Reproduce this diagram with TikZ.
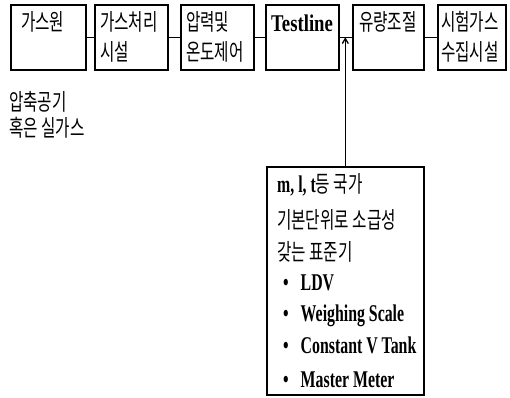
\documentclass[tikz,border=0pt]{standalone}
\usepackage{fontspec}
\newfontfamily\kr[FakeStretch=0.68]{Noto Sans CJK KR}
\newfontfamily\lat[FakeStretch=0.66]{Liberation Serif}
\newfontfamily\latw[FakeStretch=0.78]{Liberation Serif}
\usetikzlibrary{arrows.meta}
\begin{document}
\begin{tikzpicture}[x=1pt,y=-1pt,
  box/.style={draw,line width=1.6pt,minimum width=#1,minimum height=65pt,inner sep=0pt,anchor=north west},
  lbl/.style={anchor=base west,inner sep=0pt,font=\kr\fontsize{23}{26}\selectfont},
  lat/.style={anchor=base west,inner sep=0pt,font=\lat\bfseries\fontsize{24}{28}\selectfont},
  link/.style={line width=1.6pt}]
\useasboundingbox (0,0) rectangle (510,397);
\node[box=75pt] (b1) at (10,4) {};
\node[box=73pt] (b2) at (94,4) {};
\node[box=73pt] (b3) at (180,4) {};
\node[box=73pt] (b4) at (265,4) {};
\node[box=71pt] (b5) at (352,4) {};
\node[box=68pt] (b6) at (437,4) {};
\node[lbl] (t1) at (21,30) {가스원};
\node[lbl] (t2a) at (100,30) {가스처리};
\node[lbl] (t2b) at (100,60) {시설};
\node[lbl] (t3a) at (186,30) {압력및};
\node[lbl] (t3b) at (186,60) {온도제어};
\node[lat,font=\latw\bfseries\fontsize{24}{28}\selectfont] (t4) at (271,31) {Testline};
\node[lbl] (t5) at (359,30) {유량조절};
\node[lbl] (t6a) at (441,30) {시험가스};
\node[lbl] (t6b) at (441,60) {수집시설};
\node[lbl] (s1) at (9,110) {압축공기};
\node[lbl] (s2) at (9,136) {혹은 실가스};
\draw[link] (b1.east) -- (b2.west);
\draw[link] (b2.east) -- (b3.west);
\draw[link] (b3.east) -- (b4.west);
\draw[link] (b4.east) -- (b5.west);
\draw[link] (b5.east) -- (b6.west);
\node[draw,line width=1.6pt,minimum width=157pt,minimum height=228pt,inner sep=0pt,anchor=north west] (std) at (266,166) {};
\node[lbl] (l1) at (277,192) {{\lat\bfseries\fontsize{24}{28}\selectfont m, l, t}등 국가};
\node[lbl] (l2) at (277,228) {기본단위로 소급성};
\node[lbl] (l3) at (277,260) {갖는 표준기};
\node[lat] (i1) at (283,290) {•\enspace LDV};
\node[lat] (i2) at (283,321) {•\enspace Weighing Scale};
\node[lat] (i3) at (283,353) {•\enspace Constant V Tank};
\node[lat] (i4) at (283,387) {•\enspace Master Meter};
\draw[line width=1.3pt,-{Straight Barb[length=5pt,width=6pt]}] (std.north) -- (std.north |- b4.east);
\end{tikzpicture}
\end{document}
